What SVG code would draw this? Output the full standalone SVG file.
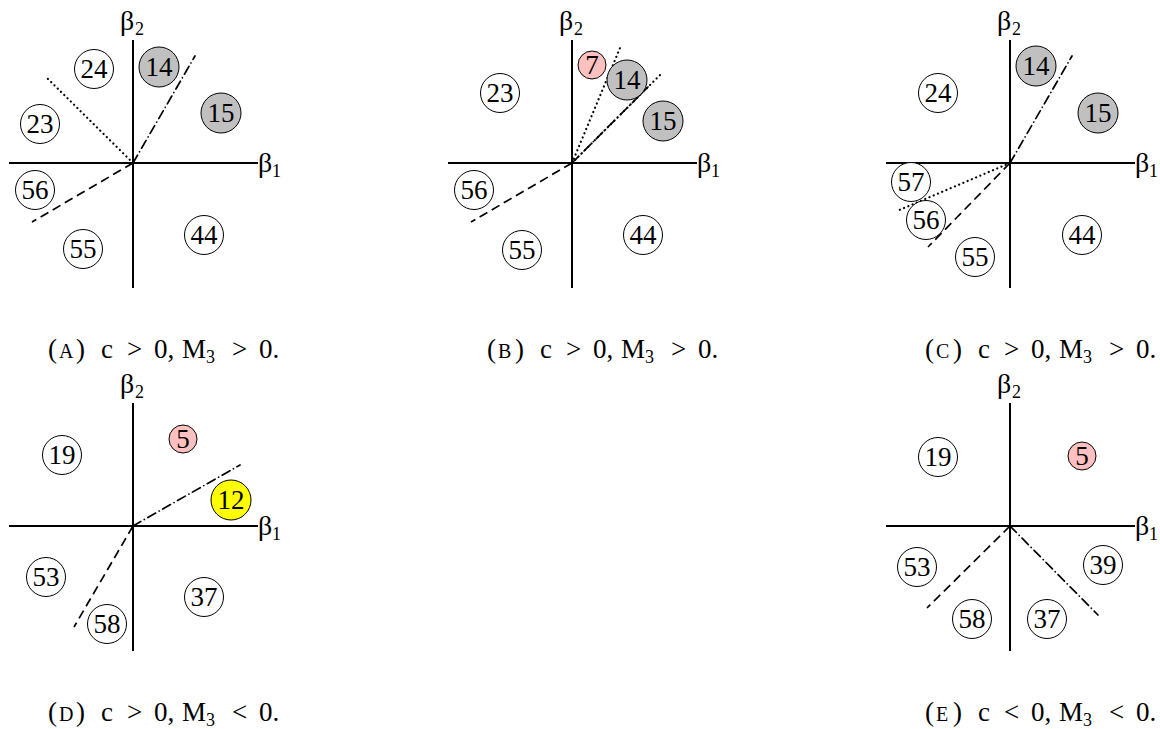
<svg xmlns="http://www.w3.org/2000/svg" width="1160" height="729" viewBox="0 0 1160 729">
<defs>
<style>
.ax{stroke:#000;stroke-width:2;fill:none}
.ln{stroke:#000;stroke-width:1.7;fill:none}
.dot{stroke-dasharray:0.1 4.5;stroke-linecap:round;stroke-width:2.2}
.dash{stroke-dasharray:9 5}
.dd{stroke-dasharray:9 4 0.1 4;stroke-linecap:round}
.c{fill:#fff;stroke:#000;stroke-width:1}
.g{fill:#c0c0c0}
.p{fill:#ffc0c0}
.y{fill:#ffff00}
.t{font-family:"Liberation Serif",serif;font-size:27px;text-anchor:middle;fill:#000}
.b{font-family:"Liberation Serif",serif;font-size:28px;fill:#000}
.s{font-size:18px}
.cap{font-family:"Liberation Serif",serif;font-size:27px;fill:#000}
.sc{font-size:20px}
.sub{font-size:18px}
</style>
</defs>
<rect width="1160" height="729" fill="#fff"/>

<!-- Panel A -->
<g id="panelA">
  <g id="A-axes">
    <line class="ax" x1="9" y1="163" x2="258" y2="163"/>
    <line class="ax" x1="133" y1="40" x2="133" y2="288"/>
    <text class="b" x="120" y="30">β<tspan class="s" x="135" y="35">2</tspan></text>
    <text class="b" x="258" y="172">β<tspan class="s" x="272" y="177">1</tspan></text>
  </g>
  <g id="A-lines">
    <line class="ln dot" x1="133" y1="163" x2="45" y2="76"/>
    <line class="ln dd" x1="133" y1="163" x2="195" y2="56"/>
    <line class="ln dash" x1="133" y1="163" x2="32" y2="222"/>
  </g>
  <g id="A-24"><circle class="c" cx="94" cy="69" r="19.5"/><text class="t" x="94" y="78">24</text></g>
  <g id="A-14"><circle class="c g" cx="159" cy="67" r="20"/><text class="t" x="159" y="76">14</text></g>
  <g id="A-15"><circle class="c g" cx="221" cy="113" r="20"/><text class="t" x="221" y="122">15</text></g>
  <g id="A-23"><circle class="c" cx="40" cy="124" r="19.5"/><text class="t" x="40" y="133">23</text></g>
  <g id="A-56"><circle class="c" cx="35" cy="190" r="19.5"/><text class="t" x="35" y="199">56</text></g>
  <g id="A-55"><circle class="c" cx="83" cy="249" r="19.5"/><text class="t" x="83" y="258">55</text></g>
  <g id="A-44"><circle class="c" cx="204" cy="235" r="19.5"/><text class="t" x="204" y="244">44</text></g>
  <text class="cap" y="358"><tspan x="48">(</tspan><tspan x="59" class="sc">A</tspan><tspan x="76">)</tspan><tspan x="101">c</tspan><tspan x="127">&gt;</tspan><tspan x="154">0,</tspan><tspan x="182">M</tspan><tspan x="206" dy="5" class="sub">3</tspan><tspan x="232" dy="-5">&gt;</tspan><tspan x="259">0.</tspan></text>
</g>

<!-- Panel B -->
<g id="panelB" transform="translate(439,0)">
  <g id="B-axes">
    <line class="ax" x1="9" y1="163" x2="258" y2="163"/>
    <line class="ax" x1="133" y1="40" x2="133" y2="288"/>
    <text class="b" x="120" y="30">β<tspan class="s" x="135" y="35">2</tspan></text>
    <text class="b" x="258" y="172">β<tspan class="s" x="272" y="177">1</tspan></text>
  </g>
  <g id="B-lines">
    <line class="ln dot" x1="133" y1="163" x2="181" y2="48"/>
    <line class="ln dot" x1="133" y1="163" x2="221" y2="75"/>
    <line class="ln dd" x1="133" y1="163" x2="209" y2="87"/>
    <line class="ln dash" x1="133" y1="163" x2="32" y2="222"/>
  </g>
  <g id="B-7"><circle class="c p" cx="153" cy="65" r="14"/><text class="t" x="153" y="74">7</text></g>
  <g id="B-14"><circle class="c g" cx="188" cy="80" r="20"/><text class="t" x="188" y="89">14</text></g>
  <g id="B-15"><circle class="c g" cx="224" cy="121" r="20"/><text class="t" x="224" y="130">15</text></g>
  <g id="B-23"><circle class="c" cx="61" cy="93" r="19.5"/><text class="t" x="61" y="102">23</text></g>
  <g id="B-56"><circle class="c" cx="35" cy="190" r="19.5"/><text class="t" x="35" y="199">56</text></g>
  <g id="B-55"><circle class="c" cx="83" cy="250" r="19.5"/><text class="t" x="83" y="259">55</text></g>
  <g id="B-44"><circle class="c" cx="204" cy="235" r="19.5"/><text class="t" x="204" y="244">44</text></g>
  <text class="cap" y="358"><tspan x="48">(</tspan><tspan x="59" class="sc">B</tspan><tspan x="76">)</tspan><tspan x="101">c</tspan><tspan x="127">&gt;</tspan><tspan x="154">0,</tspan><tspan x="182">M</tspan><tspan x="206" dy="5" class="sub">3</tspan><tspan x="232" dy="-5">&gt;</tspan><tspan x="259">0.</tspan></text>
</g>

<!-- Panel C -->
<g id="panelC" transform="translate(877,0)">
  <g id="C-axes">
    <line class="ax" x1="9" y1="163" x2="258" y2="163"/>
    <line class="ax" x1="133" y1="40" x2="133" y2="288"/>
    <text class="b" x="120" y="30">β<tspan class="s" x="135" y="35">2</tspan></text>
    <text class="b" x="258" y="172">β<tspan class="s" x="272" y="177">1</tspan></text>
  </g>
  <g id="C-lines">
    <line class="ln dd" x1="133" y1="163" x2="195" y2="56"/>
    <line class="ln dot" x1="133" y1="163" x2="20" y2="211"/>
    <line class="ln dash" x1="133" y1="163" x2="51" y2="247"/>
  </g>
  <g id="C-14"><circle class="c g" cx="159" cy="66" r="20"/><text class="t" x="159" y="75">14</text></g>
  <g id="C-15"><circle class="c g" cx="221" cy="113" r="20"/><text class="t" x="221" y="122">15</text></g>
  <g id="C-24"><circle class="c" cx="61" cy="93" r="19.5"/><text class="t" x="61" y="102">24</text></g>
  <g id="C-57"><circle class="c" cx="34" cy="182" r="19.5"/><text class="t" x="34" y="191">57</text></g>
  <g id="C-56"><circle class="c" cx="49" cy="220" r="19.5"/><text class="t" x="49" y="229">56</text></g>
  <g id="C-55"><circle class="c" cx="98" cy="257" r="19.5"/><text class="t" x="98" y="266">55</text></g>
  <g id="C-44"><circle class="c" cx="205" cy="235" r="19.5"/><text class="t" x="205" y="244">44</text></g>
  <text class="cap" y="358"><tspan x="48">(</tspan><tspan x="59" class="sc">C</tspan><tspan x="76">)</tspan><tspan x="101">c</tspan><tspan x="127">&gt;</tspan><tspan x="154">0,</tspan><tspan x="182">M</tspan><tspan x="206" dy="5" class="sub">3</tspan><tspan x="232" dy="-5">&gt;</tspan><tspan x="259">0.</tspan></text>
</g>

<!-- Panel D -->
<g id="panelD" transform="translate(0,363)">
  <g id="D-axes">
    <line class="ax" x1="9" y1="163" x2="258" y2="163"/>
    <line class="ax" x1="133" y1="40" x2="133" y2="288"/>
    <text class="b" x="120" y="30">β<tspan class="s" x="135" y="35">2</tspan></text>
    <text class="b" x="258" y="172">β<tspan class="s" x="272" y="177">1</tspan></text>
  </g>
  <g id="D-lines">
    <line class="ln dd" x1="133" y1="163" x2="240" y2="102"/>
    <line class="ln dash" x1="133" y1="163" x2="74" y2="264"/>
  </g>
  <g id="D-5"><circle class="c p" cx="183" cy="76" r="14"/><text class="t" x="183" y="85">5</text></g>
  <g id="D-19"><circle class="c" cx="62" cy="92" r="19.5"/><text class="t" x="62" y="101">19</text></g>
  <g id="D-12"><circle class="c y" cx="231" cy="137" r="20"/><text class="t" x="231" y="146">12</text></g>
  <g id="D-53"><circle class="c" cx="46" cy="214" r="19.5"/><text class="t" x="46" y="223">53</text></g>
  <g id="D-37"><circle class="c" cx="204" cy="234" r="19.5"/><text class="t" x="204" y="243">37</text></g>
  <g id="D-58"><circle class="c" cx="107" cy="261" r="19.5"/><text class="t" x="107" y="270">58</text></g>
  <text class="cap" y="358"><tspan x="48">(</tspan><tspan x="59" class="sc">D</tspan><tspan x="76">)</tspan><tspan x="101">c</tspan><tspan x="127">&gt;</tspan><tspan x="154">0,</tspan><tspan x="182">M</tspan><tspan x="206" dy="5" class="sub">3</tspan><tspan x="232" dy="-5">&lt;</tspan><tspan x="259">0.</tspan></text>
</g>

<!-- Panel E -->
<g id="panelE" transform="translate(877,363)">
  <g id="E-axes">
    <line class="ax" x1="9" y1="163" x2="258" y2="163"/>
    <line class="ax" x1="133" y1="40" x2="133" y2="288"/>
    <text class="b" x="120" y="30">β<tspan class="s" x="135" y="35">2</tspan></text>
    <text class="b" x="258" y="172">β<tspan class="s" x="272" y="177">1</tspan></text>
  </g>
  <g id="E-lines">
    <line class="ln dash" x1="133" y1="163" x2="50" y2="245"/>
    <line class="ln dd" x1="133" y1="163" x2="221" y2="252"/>
  </g>
  <g id="E-19"><circle class="c" cx="61" cy="94" r="19.5"/><text class="t" x="61" y="103">19</text></g>
  <g id="E-5"><circle class="c p" cx="205" cy="93" r="14"/><text class="t" x="205" y="102">5</text></g>
  <g id="E-53"><circle class="c" cx="40" cy="204" r="19.5"/><text class="t" x="40" y="213">53</text></g>
  <g id="E-39"><circle class="c" cx="226" cy="202" r="19.5"/><text class="t" x="226" y="211">39</text></g>
  <g id="E-58"><circle class="c" cx="95" cy="256" r="19.5"/><text class="t" x="95" y="265">58</text></g>
  <g id="E-37"><circle class="c" cx="170" cy="256" r="19.5"/><text class="t" x="170" y="265">37</text></g>
  <text class="cap" y="358"><tspan x="48">(</tspan><tspan x="59" class="sc">E</tspan><tspan x="76">)</tspan><tspan x="101">c</tspan><tspan x="127">&lt;</tspan><tspan x="154">0,</tspan><tspan x="182">M</tspan><tspan x="206" dy="5" class="sub">3</tspan><tspan x="232" dy="-5">&lt;</tspan><tspan x="259">0.</tspan></text>
</g>
</svg>
